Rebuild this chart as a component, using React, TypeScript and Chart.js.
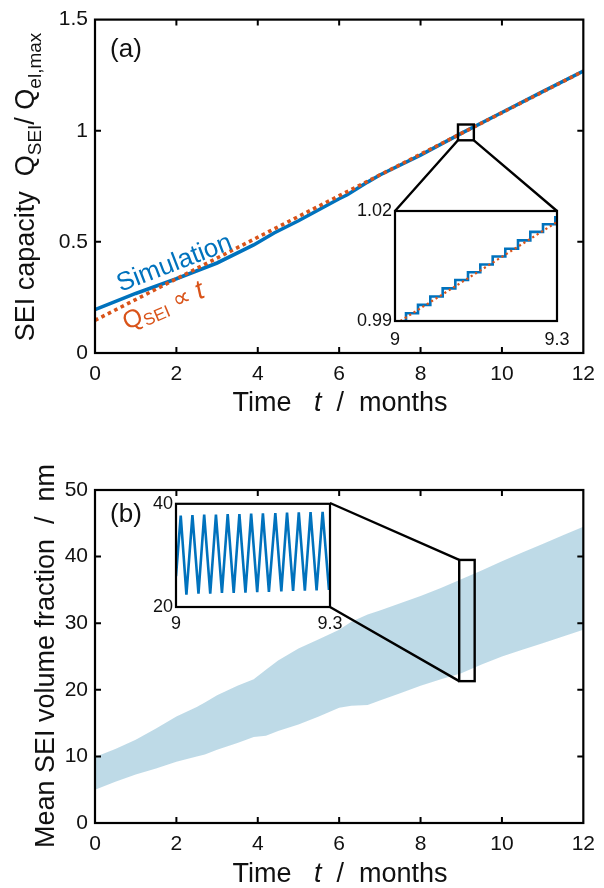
import React, { useEffect, useRef } from 'react';
import { Chart, registerables } from 'chart.js';

Chart.register(...registerables);

const FONT = "'Liberation Sans', Arial, Helvetica, 'DejaVu Sans', sans-serif";
const BLUE = '#0072BD';
const ORANGE = '#D95319';
const BAND = 'rgba(176, 210, 226, 0.82)';
const INK = '#111111';

// ---------- Panel (a): SEI capacity ----------
const simTime = [0, 1, 2, 3, 3.9, 4.4, 5, 6, 6.2, 6.7, 7, 8, 9, 10, 11, 12];
const simCapacity = [0.195, 0.268, 0.334, 0.405, 0.486, 0.54, 0.595, 0.694, 0.712, 0.769, 0.801, 0.89, 0.988, 1.082, 1.176, 1.268];
const fitTime = [0, 12];
const fitCapacity = [0.147, 1.268];

// zoom of panel (a): 9 - 9.3 months
const stepTime = [9.016, 9.0204, 9.0426, 9.0654, 9.0883, 9.1117, 9.1352, 9.158, 9.1809, 9.2043, 9.2278, 9.2506, 9.2741, 9.2969, 9.3];
const stepCapacity = [0.99, 0.9921, 0.9944, 0.9967, 0.9989, 1.0012, 1.0033, 1.0054, 1.0076, 1.0097, 1.012, 1.0143, 1.0164, 1.0183, 1.0184];
const zoomFitTime = [9.01, 9.3];
const zoomFitCapacity = [0.99, 1.017];

// ---------- Panel (b): mean SEI thickness envelope ----------
const bandTime = [0, 0.5, 1, 1.5, 2, 2.5, 2.7, 3, 3.5, 3.9, 4.2, 4.5, 5, 5.5, 6, 6.3, 6.7, 7, 7.5, 8, 8.5, 9, 9.5, 10, 10.5, 11, 11.5, 12];
const bandUpper = [9.9, 11.1, 12.5, 14.2, 16.0, 17.4, 18.1, 19.2, 20.6, 21.6, 23.0, 24.4, 26.2, 27.6, 29.0, 30.2, 31.3, 31.9, 33.0, 34.1, 35.3, 36.6, 37.9, 39.3, 40.6, 41.9, 43.2, 44.5];
const bandLower = [5.0, 6.2, 7.3, 8.2, 9.2, 10.0, 10.3, 11.0, 12.0, 12.9, 13.1, 13.8, 14.8, 16.0, 17.3, 17.6, 17.7, 18.4, 19.5, 20.6, 21.6, 22.5, 23.8, 25.0, 26.0, 27.0, 28.0, 29.0];

// zoom of panel (b): 9 - 9.3 months
const zigTime = [9.0, 9.0092, 9.0203, 9.032, 9.0438, 9.0549, 9.0667, 9.0778, 9.0895, 9.1007, 9.1124, 9.1235, 9.1353, 9.1464, 9.1582, 9.1693, 9.181, 9.1935, 9.2052, 9.2163, 9.2281, 9.2392, 9.251, 9.2621, 9.2739, 9.2856, 9.298];
const zigThickness = [26.0, 37.7, 22.4, 37.8, 22.6, 37.9, 22.6, 37.9, 22.75, 38.0, 22.75, 38.0, 22.8, 38.1, 22.9, 38.15, 22.95, 38.2, 23.0, 38.3, 23.1, 38.35, 23.15, 38.4, 23.2, 38.45, 23.3];

// ---------- ticks ----------
const monthTicks = [0, 2, 4, 6, 8, 10, 12];
const monthTickLabels = ['0', '2', '4', '6', '8', '10', '12'];
const capacityTicks = [0, 0.5, 1, 1.5];
const capacityTickLabels = ['0', '0.5', '1', '1.5'];
const thicknessTicks = [0, 10, 20, 30, 40, 50];
const thicknessTickLabels = ['0', '10', '20', '30', '40', '50'];
const zoomTimeTicks = [9, 9.3];
const zoomTimeTickLabels = ['9', '9.3'];
const zoomCapacityTicks = [0.99, 1.02];
const zoomCapacityTickLabels = ['0.99', '1.02'];
const zoomThicknessTicks = [20, 40];
const zoomThicknessTickLabels = ['20', '40'];

// ---------- layout (pixels) ----------
const W = 604;
const PANEL_H = 444;
const AREA_A = { left: 95, right: 590, top: 19, bottom: 353 };
const AREA_B = { left: 95, right: 590, top: 46, bottom: 379 };
const INSET_A = { left: 395, top: 211, right: 557, bottom: 321, cLeft: 335, cTop: 195, cW: 250, cH: 165 };
const INSET_B = { left: 176, top: 503, right: 330, bottom: 607, cLeft: 120, cTop: 490, cW: 230, cH: 150 };
const ZOOM_A = { x0: 8.92, x1: 9.31, y0: 0.957, y1: 1.028 };
const ZOOM_B = { x0: 8.95, x1: 9.33, y0: 21.3, y1: 39.5 };

const pts = (xs: number[], ys: number[]) => xs.map((x, i) => ({ x, y: ys[i] }));

function axis(min: number, max: number, ticks: number[], labels: string[], size: number, padding: number, fit: 'width' | 'height', fitVal: number) {
  return {
    type: 'linear' as const,
    min,
    max,
    afterBuildTicks: (s: any) => {
      s.ticks = ticks.map((v) => ({ value: v }));
    },
    afterFit: (s: any) => {
      s[fit] = fitVal;
    },
    ticks: {
      autoSkip: false,
      maxRotation: 0,
      minRotation: 0,
      padding,
      color: INK,
      font: { family: FONT, size },
      callback: (_v: any, i: number) => labels[i],
    },
    grid: { display: false, drawTicks: false, tickLength: 0 },
    border: { display: false },
  };
}

type Seg = { t: string; s: number; it?: boolean; dy?: number };

function drawRich(ctx: CanvasRenderingContext2D, segs: Seg[], x: number, y: number, angle: number, color: string, vShift = 0) {
  ctx.save();
  ctx.translate(x, y);
  ctx.rotate(angle);
  ctx.fillStyle = color;
  ctx.textAlign = 'left';
  ctx.textBaseline = 'alphabetic';
  const fontOf = (g: Seg) => `${g.it ? 'italic ' : ''}${g.s}px ${FONT}`;
  const widths = segs.map((g) => {
    ctx.font = fontOf(g);
    return ctx.measureText(g.t).width;
  });
  const total = widths.reduce((a, b) => a + b, 0);
  let cx = -total / 2;
  segs.forEach((g, i) => {
    ctx.font = fontOf(g);
    ctx.fillText(g.t, cx, (g.dy || 0) + vShift);
    cx += widths[i];
  });
  ctx.restore();
}

function drawFrame(chart: any, tickLen: number, withTicks: boolean) {
  const ctx: CanvasRenderingContext2D = chart.ctx;
  const a = chart.chartArea;
  ctx.save();
  ctx.strokeStyle = '#000';
  ctx.lineWidth = 2;
  ctx.lineCap = 'butt';
  if (withTicks) {
    const xs = chart.scales.x;
    const ys = chart.scales.y;
    ctx.beginPath();
    xs.ticks.forEach((t: any) => {
      const px = xs.getPixelForValue(t.value);
      if (px <= a.left + 1 || px >= a.right - 1) return;
      ctx.moveTo(px, a.bottom);
      ctx.lineTo(px, a.bottom - tickLen);
      ctx.moveTo(px, a.top);
      ctx.lineTo(px, a.top + tickLen);
    });
    ys.ticks.forEach((t: any) => {
      const py = ys.getPixelForValue(t.value);
      if (py <= a.top + 1 || py >= a.bottom - 1) return;
      ctx.moveTo(a.left, py);
      ctx.lineTo(a.left + tickLen, py);
      ctx.moveTo(a.right, py);
      ctx.lineTo(a.right - tickLen, py);
    });
    ctx.stroke();
  }
  ctx.lineWidth = 2.2;
  ctx.strokeRect(a.left, a.top, a.right - a.left, a.bottom - a.top);
  ctx.restore();
}

const timeTitle: Seg[] = [
  { t: 'Time   ', s: 27 },
  { t: 't', s: 27, it: true },
  { t: '  /  months', s: 27 },
];

const decorA = {
  id: 'decorA',
  afterDraw(chart: any) {
    const ctx: CanvasRenderingContext2D = chart.ctx;
    const xs = chart.scales.x;
    const ys = chart.scales.y;
    drawFrame(chart, 6, true);
    ctx.save();
    const bx0 = xs.getPixelForValue(ZOOM_A.x0);
    const bx1 = xs.getPixelForValue(ZOOM_A.x1);
    const by0 = ys.getPixelForValue(ZOOM_A.y0);
    const by1 = ys.getPixelForValue(ZOOM_A.y1);
    ctx.strokeStyle = '#000';
    ctx.lineWidth = 2.4;
    ctx.strokeRect(bx0, by1, bx1 - bx0, by0 - by1);
    ctx.beginPath();
    ctx.moveTo(bx0, by0);
    ctx.lineTo(INSET_A.left, INSET_A.top);
    ctx.moveTo(bx1, by0);
    ctx.lineTo(INSET_A.right, INSET_A.top);
    ctx.stroke();
    ctx.restore();

    ctx.save();
    ctx.fillStyle = INK;
    ctx.font = `26px ${FONT}`;
    ctx.textAlign = 'center';
    ctx.textBaseline = 'middle';
    ctx.fillText('(a)', 126, 50);
    ctx.restore();

    drawRich(ctx, [{ t: 'Simulation', s: 26 }], xs.getPixelForValue(1.94), ys.getPixelForValue(0.41), (-21 * Math.PI) / 180, BLUE, 9);
    drawRich(
      ctx,
      [
        { t: 'Q', s: 25 },
        { t: 'SEI', s: 17, dy: 4 },
        { t: ' \u221D ', s: 25 },
        { t: 't', s: 27, it: true },
      ],
      xs.getPixelForValue(1.67),
      ys.getPixelForValue(0.216),
      (-23 * Math.PI) / 180,
      ORANGE,
      9
    );

    drawRich(ctx, timeTitle, 340, 411, 0, INK);
    drawRich(
      ctx,
      [
        { t: 'SEI capacity  ', s: 27 },
        { t: 'Q', s: 27 },
        { t: 'SEI', s: 19, dy: 7 },
        { t: '/ ', s: 27 },
        { t: 'Q', s: 27 },
        { t: 'el,max', s: 19, dy: 7 },
      ],
      34,
      187,
      -Math.PI / 2,
      INK
    );
  },
};

const decorB = {
  id: 'decorB',
  afterDraw(chart: any) {
    const ctx: CanvasRenderingContext2D = chart.ctx;
    const xs = chart.scales.x;
    const ys = chart.scales.y;
    drawFrame(chart, 6, true);
    ctx.save();
    const bx0 = xs.getPixelForValue(ZOOM_B.x0);
    const bx1 = xs.getPixelForValue(ZOOM_B.x1);
    const by0 = ys.getPixelForValue(ZOOM_B.y0);
    const by1 = ys.getPixelForValue(ZOOM_B.y1);
    ctx.strokeStyle = '#000';
    ctx.lineWidth = 2.4;
    ctx.strokeRect(bx0, by1, bx1 - bx0, by0 - by1);
    ctx.beginPath();
    ctx.moveTo(INSET_B.right, INSET_B.top - PANEL_H);
    ctx.lineTo(bx0, by1);
    ctx.moveTo(INSET_B.right, INSET_B.bottom - PANEL_H);
    ctx.lineTo(bx0, by0);
    ctx.stroke();
    ctx.restore();

    ctx.save();
    ctx.fillStyle = INK;
    ctx.font = `26px ${FONT}`;
    ctx.textAlign = 'center';
    ctx.textBaseline = 'middle';
    ctx.fillText('(b)', 126, 515 - PANEL_H);
    ctx.restore();

    drawRich(ctx, timeTitle, 340, 882 - PANEL_H, 0, INK);
    drawRich(ctx, [{ t: 'Mean SEI volume fraction  /  nm', s: 27 }], 54, 656 - PANEL_H, -Math.PI / 2, INK);
  },
};

const insetDecor = {
  id: 'insetDecor',
  beforeDatasetsDraw(chart: any) {
    const ctx: CanvasRenderingContext2D = chart.ctx;
    const a = chart.chartArea;
    ctx.save();
    ctx.fillStyle = '#ffffff';
    ctx.fillRect(a.left, a.top, a.right - a.left, a.bottom - a.top);
    ctx.restore();
  },
  afterDraw(chart: any) {
    drawFrame(chart, 0, false);
  },
};

const baseOptions = (padding: any) => ({
  animation: false as const,
  responsive: false,
  maintainAspectRatio: false,
  events: [] as any[],
  layout: { padding },
  plugins: { legend: { display: false }, tooltip: { enabled: false } },
});

export default function App() {
  const aRef = useRef<HTMLCanvasElement>(null);
  const bRef = useRef<HTMLCanvasElement>(null);
  const iaRef = useRef<HTMLCanvasElement>(null);
  const ibRef = useRef<HTMLCanvasElement>(null);

  useEffect(() => {
    const charts: Chart[] = [];

    charts.push(
      new Chart(aRef.current as HTMLCanvasElement, {
        type: 'line',
        data: {
          datasets: [
            { data: pts(simTime, simCapacity), borderColor: BLUE, borderWidth: 3.6, pointRadius: 0, tension: 0, order: 2 },
            { data: pts(fitTime, fitCapacity), borderColor: ORANGE, borderWidth: 3.6, borderDash: [3.6, 3.6], borderCapStyle: 'butt', pointRadius: 0, order: 1 },
          ],
        },
        options: {
          ...baseOptions({ left: 0, right: W - AREA_A.right, top: AREA_A.top, bottom: 0 }),
          scales: {
            x: axis(0, 12, monthTicks, monthTickLabels, 21, 9, 'height', PANEL_H - AREA_A.bottom),
            y: axis(0, 1.5, capacityTicks, capacityTickLabels, 21, 7, 'width', AREA_A.left),
          },
        } as any,
        plugins: [decorA],
      })
    );

    charts.push(
      new Chart(bRef.current as HTMLCanvasElement, {
        type: 'line',
        data: {
          datasets: [
            { data: pts(bandTime, bandUpper), borderColor: 'rgba(0,0,0,0)', borderWidth: 0, backgroundColor: BAND, fill: '+1', pointRadius: 0, tension: 0 },
            { data: pts(bandTime, bandLower), borderColor: 'rgba(0,0,0,0)', borderWidth: 0, fill: false, pointRadius: 0, tension: 0 },
          ],
        },
        options: {
          ...baseOptions({ left: 0, right: W - AREA_B.right, top: AREA_B.top, bottom: 0 }),
          scales: {
            x: axis(0, 12, monthTicks, monthTickLabels, 21, 9, 'height', PANEL_H - AREA_B.bottom),
            y: axis(0, 50, thicknessTicks, thicknessTickLabels, 21, 7, 'width', AREA_B.left),
          },
        } as any,
        plugins: [decorB],
      })
    );

    charts.push(
      new Chart(iaRef.current as HTMLCanvasElement, {
        type: 'line',
        data: {
          datasets: [
            { data: pts(stepTime, stepCapacity), stepped: 'before', borderColor: BLUE, borderWidth: 2.6, pointRadius: 0, order: 2 },
            { data: pts(zoomFitTime, zoomFitCapacity), borderColor: ORANGE, borderWidth: 2.2, borderDash: [2.2, 3], pointRadius: 0, order: 1 },
          ],
        },
        options: {
          ...baseOptions({
            left: 0,
            right: INSET_A.cLeft + INSET_A.cW - INSET_A.right,
            top: INSET_A.top - INSET_A.cTop,
            bottom: 0,
          }),
          scales: {
            x: axis(9, 9.3, zoomTimeTicks, zoomTimeTickLabels, 18, 8, 'height', INSET_A.cTop + INSET_A.cH - INSET_A.bottom),
            y: axis(0.99, 1.02, zoomCapacityTicks, zoomCapacityTickLabels, 18, 3, 'width', INSET_A.left - INSET_A.cLeft),
          },
        } as any,
        plugins: [insetDecor],
      })
    );

    charts.push(
      new Chart(ibRef.current as HTMLCanvasElement, {
        type: 'line',
        data: {
          datasets: [{ data: pts(zigTime, zigThickness), borderColor: BLUE, borderWidth: 2.6, pointRadius: 0, tension: 0 }],
        },
        options: {
          ...baseOptions({
            left: 0,
            right: INSET_B.cLeft + INSET_B.cW - INSET_B.right,
            top: INSET_B.top - INSET_B.cTop,
            bottom: 0,
          }),
          scales: {
            x: axis(9, 9.3, zoomTimeTicks, zoomTimeTickLabels, 18, 6, 'height', INSET_B.cTop + INSET_B.cH - INSET_B.bottom),
            y: axis(20, 40, zoomThicknessTicks, zoomThicknessTickLabels, 18, 3, 'width', INSET_B.left - INSET_B.cLeft),
          },
        } as any,
        plugins: [insetDecor],
      })
    );

    return () => charts.forEach((c) => c.destroy());
  }, []);

  const abs = (left: number, top: number, w: number, h: number): React.CSSProperties => ({
    position: 'absolute',
    left,
    top,
    width: w,
    height: h,
    display: 'block',
  });

  return (
    <div style={{ position: 'absolute', left: 0, top: 0, width: W, height: PANEL_H * 2, background: '#ffffff', overflow: 'hidden' }}>
      <canvas ref={aRef} width={W} height={PANEL_H} style={abs(0, 0, W, PANEL_H)} />
      <canvas ref={bRef} width={W} height={PANEL_H} style={abs(0, PANEL_H, W, PANEL_H)} />
      <canvas ref={iaRef} width={INSET_A.cW} height={INSET_A.cH} style={abs(INSET_A.cLeft, INSET_A.cTop, INSET_A.cW, INSET_A.cH)} />
      <canvas ref={ibRef} width={INSET_B.cW} height={INSET_B.cH} style={abs(INSET_B.cLeft, INSET_B.cTop, INSET_B.cW, INSET_B.cH)} />
    </div>
  );
}
